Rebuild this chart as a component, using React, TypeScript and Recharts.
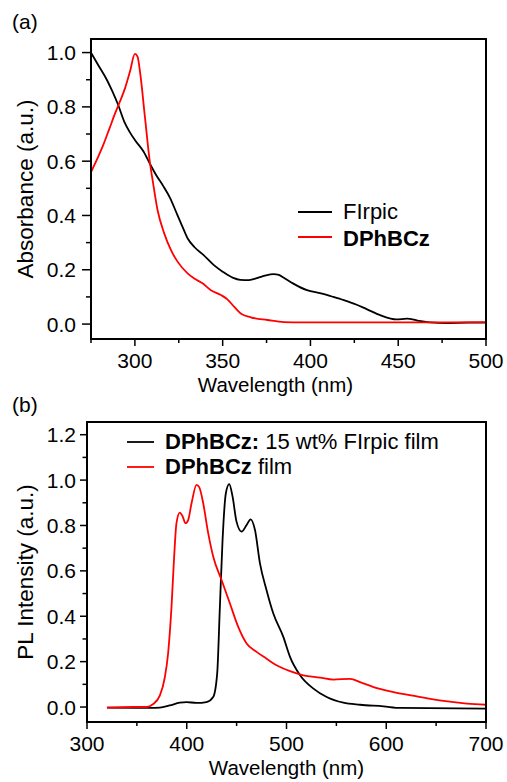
import React from 'react';
import { LineChart, Line, XAxis, YAxis, Legend, Label } from 'recharts';

const FONT = "'Liberation Sans', Arial, Helvetica, sans-serif";

// ---- Panel (a): absorbance ----
const absWlFIrpic = [275, 279, 284, 287, 290.5, 294, 297, 300, 305, 309, 312, 316, 320, 324, 327, 330, 334, 339, 345, 350, 356, 360, 365, 370, 374, 379, 382, 385, 390, 398, 406, 413, 419, 426, 432, 440, 449, 455, 461, 468, 478, 490, 500];
const absFIrpic = [1.0, 0.955, 0.9, 0.86, 0.807, 0.745, 0.708, 0.678, 0.635, 0.585, 0.55, 0.51, 0.465, 0.405, 0.36, 0.316, 0.283, 0.255, 0.217, 0.193, 0.17, 0.163, 0.162, 0.17, 0.178, 0.184, 0.181, 0.17, 0.15, 0.125, 0.113, 0.1, 0.088, 0.072, 0.055, 0.032, 0.017, 0.02, 0.013, 0.006, 0.004, 0.005, 0.005];

const absWlDPhBCz = [275, 279, 282, 285.5, 288.7, 291.5, 294.4, 297.2, 300, 301.5, 303, 305.7, 308.6, 310.1, 312.9, 316.7, 320.5, 324.3, 330, 333.8, 338.5, 343.3, 349, 352.7, 356.5, 360.3, 366, 375.5, 385, 395, 432, 470, 500];
const absDPhBCz = [0.56, 0.615, 0.66, 0.72, 0.776, 0.82, 0.869, 0.93, 0.995, 0.985, 0.925, 0.764, 0.593, 0.53, 0.42, 0.334, 0.273, 0.23, 0.187, 0.168, 0.15, 0.125, 0.107, 0.091, 0.064, 0.039, 0.025, 0.015, 0.007, 0.006, 0.006, 0.006, 0.007];

const absXTicks = [275, 300, 325, 350, 375, 400, 425, 450, 475, 500];
const absYTicks = [0, 0.1, 0.2, 0.3, 0.4, 0.5, 0.6, 0.7, 0.8, 0.9, 1.0];
const absXDomain = [275, 500];
const absYDomain = [-0.055, 1.05];

// ---- Panel (b): PL ----
const plWlDoped = [320, 363, 373, 383, 393, 399.7, 409.8, 419.8, 426.5, 430.5, 433.2, 435.9, 439.2, 442.6, 445.9, 449.9, 455, 460, 464, 468.4, 473.4, 480, 486.8, 496.8, 503.5, 513.6, 527, 540.3, 557, 573.8, 597.2, 614, 700];
const plDoped = [-0.003, -0.004, -0.003, 0.007, 0.019, 0.022, 0.018, 0.022, 0.044, 0.147, 0.44, 0.736, 0.942, 0.982, 0.928, 0.817, 0.773, 0.802, 0.827, 0.78, 0.633, 0.515, 0.412, 0.309, 0.221, 0.14, 0.081, 0.044, 0.019, 0.01, 0.003, -0.004, -0.007];

const plWlFilm = [320, 346, 360, 366, 373, 378, 381.3, 384.7, 387, 389.7, 393, 395.7, 398.7, 401.4, 404.8, 409.8, 412.5, 416.5, 421.5, 426.5, 434.9, 443.3, 451.6, 460, 470, 480, 490, 503.5, 516.9, 533.6, 547, 563.8, 573.8, 587.2, 607.3, 630.7, 657.5, 680.9, 700];
const plFilm = [-0.003, 0, 0, 0.012, 0.05, 0.13, 0.236, 0.44, 0.633, 0.81, 0.857, 0.842, 0.81, 0.824, 0.898, 0.979, 0.969, 0.898, 0.766, 0.663, 0.56, 0.456, 0.353, 0.28, 0.243, 0.213, 0.184, 0.158, 0.14, 0.13, 0.121, 0.124, 0.11, 0.088, 0.066, 0.047, 0.027, 0.015, 0.01];

const plXTicks = [300, 350, 400, 450, 500, 550, 600, 650, 700];
const plYTicks = [0, 0.1, 0.2, 0.3, 0.4, 0.5, 0.6, 0.7, 0.8, 0.9, 1.0, 1.1, 1.2];
const plXDomain = [300, 700];
const plYDomain = [-0.066, 1.256];

const zip = (xs: number[], ys: number[]) => xs.map((x, i) => ({ x, y: ys[i] }));

const absFIrpicData = zip(absWlFIrpic, absFIrpic);
const absDPhBCzData = zip(absWlDPhBCz, absDPhBCz);
const plDopedData = zip(plWlDoped, plDoped);
const plFilmData = zip(plWlFilm, plFilm);

// layout of each panel
const LAYOUT_A = { top: 0, width: 507, height: 400, mTop: 39, mRight: 21, yAxisW: 91, xAxisH: 61 };
const LAYOUT_B = { top: 390, width: 507, height: 392, mTop: 32, mRight: 21, yAxisW: 87, xAxisH: 60 };

const isMult = (v: number, step: number) => Math.abs(Math.round(v / step) * step - v) < 1e-6;

// Y tick renderer; the tick at the lowest value also draws the plot frame (box around the plot area)
const makeYTick = (L: typeof LAYOUT_A, majorLen: number, minorLen: number, gap: number, firstVal: number) => (props: any) => {
  const { x, y, payload } = props;
  const v = payload.value as number;
  const major = isMult(v, 0.2);
  const plotW = L.width - L.yAxisW - L.mRight;
  const plotTop = L.mTop;
  const plotBottom = L.height - L.xAxisH;
  return (
    <g>
      {v === firstVal && (
        <g>
          <rect x={x - 1} y={plotTop - 1} width={2} height={plotBottom - plotTop + 2} fill="#000" />
          <rect x={x + plotW - 1} y={plotTop - 1} width={2} height={plotBottom - plotTop + 2} fill="#000" />
          <rect x={x - 1} y={plotTop - 1} width={plotW + 2} height={2} fill="#000" />
          <rect x={x - 1} y={plotBottom - 1} width={plotW + 2} height={2} fill="#000" />
        </g>
      )}
      <line x1={x - (major ? majorLen : minorLen)} x2={x} y1={y} y2={y} stroke="#000" strokeWidth={1.5} />
      {major && (
        <text x={x - gap} y={y} dy="0.36em" textAnchor="end" fontFamily={FONT} fontSize={21} fill="#000">
          {v.toFixed(1)}
        </text>
      )}
    </g>
  );
};

const makeXTick = (step: number) => (props: any) => {
  const { x, y, payload } = props;
  const v = payload.value as number;
  const major = isMult(v, step);
  return (
    <g>
      <line x1={x} x2={x} y1={y} y2={y + (major ? 7 : 4)} stroke="#000" strokeWidth={1.5} />
      {major && (
        <text x={x} y={y + 29} textAnchor="middle" fontFamily={FONT} fontSize={21} fill="#000">
          {v}
        </text>
      )}
    </g>
  );
};

const xTitle = (text: string, dx: number, baseline: number) => (p: any) => {
  const vb = p.viewBox || {};
  const cx = (vb.x ?? 0) + (vb.width ?? 0) / 2 + dx;
  const y = (vb.y ?? 0) + baseline;
  return (
    <text x={cx} y={y} textAnchor="middle" fontFamily={FONT} fontSize={20.5} fill="#000">
      {text}
    </text>
  );
};

const yTitle = (text: string, cxAbs: number) => (p: any) => {
  const vb = p.viewBox || {};
  const cy = (vb.y ?? 0) + (vb.height ?? 0) / 2;
  return (
    <text
      x={cxAbs}
      y={cy}
      dy="0.355em"
      transform={`rotate(-90, ${cxAbs}, ${cy})`}
      textAnchor="middle"
      fontFamily={FONT}
      fontSize={22.5}
      fill="#000"
    >
      {text}
    </text>
  );
};

const LegendA = () => (
  <svg width={200} height={60} style={{ display: 'block' }}>
    <line x1={8} x2={42} y1={17} y2={17} stroke="#000" strokeWidth={1.8} />
    <text x={53} y={23.8} fontFamily={FONT} fontSize={22} fill="#000">FIrpic</text>
    <line x1={8} x2={42} y1={42} y2={42} stroke="#ff0000" strokeWidth={1.8} />
    <text x={53} y={50.5} fontFamily={FONT} fontSize={22} fontWeight="bold" fill="#000">DPhBCz</text>
  </svg>
);

const LegendB = () => (
  <svg width={340} height={70} style={{ display: 'block' }}>
    <line x1={7} x2={34} y1={22} y2={22} stroke="#000" strokeWidth={1.8} />
    <text x={45} y={28.8} fontFamily={FONT} fontSize={22} fill="#000">
      <tspan fontWeight="bold">DPhBCz:</tspan>
      <tspan>{' 15 wt% FIrpic film'}</tspan>
    </text>
    <line x1={7} x2={34} y1={47} y2={47} stroke="#ff0000" strokeWidth={1.8} />
    <text x={45} y={54} fontFamily={FONT} fontSize={22} fill="#000">
      <tspan fontWeight="bold">DPhBCz</tspan>
      <tspan>{' film'}</tspan>
    </text>
  </svg>
);

export default function App() {
  return (
    <div style={{ position: 'absolute', left: 0, top: 0, width: 507, height: 782, background: '#fff' }}>
      <div style={{ position: 'absolute', left: 0, top: LAYOUT_A.top }}>
        <LineChart width={LAYOUT_A.width} height={LAYOUT_A.height} margin={{ top: LAYOUT_A.mTop, right: LAYOUT_A.mRight, bottom: 0, left: 0 }}>
          <XAxis
            type="number"
            dataKey="x"
            domain={absXDomain}
            allowDataOverflow
            ticks={absXTicks}
            interval={0}
            height={LAYOUT_A.xAxisH}
            axisLine={false}
            tickLine={false}
            tickSize={0}
            tickMargin={0}
            tick={makeXTick(50)}
          >
            <Label content={xTitle('Wavelength (nm)', -13, 53)} />
          </XAxis>
          <YAxis
            type="number"
            domain={absYDomain}
            allowDataOverflow
            ticks={absYTicks}
            interval={0}
            width={LAYOUT_A.yAxisW}
            axisLine={false}
            tickLine={false}
            tickSize={0}
            tickMargin={0}
            tick={makeYTick(LAYOUT_A, 9, 5, 15, absYTicks[0])}
          >
            <Label content={yTitle('Absorbance (a.u.)', 25)} />
          </YAxis>
          <Line data={absFIrpicData} dataKey="y" type="monotone" dot={false} stroke="#000" strokeWidth={1.8} isAnimationActive={false} />
          <Line data={absDPhBCzData} dataKey="y" type="monotone" dot={false} stroke="#ff0000" strokeWidth={1.8} isAnimationActive={false} />
          <Legend
            layout="horizontal"
            verticalAlign="middle"
            align="center"
            content={() => <LegendA />}
            wrapperStyle={{ position: 'absolute', left: 290, top: 195, width: 200, height: 60 }}
          />
        </LineChart>
      </div>
      <div style={{ position: 'absolute', left: 0, top: LAYOUT_B.top }}>
        <LineChart width={LAYOUT_B.width} height={LAYOUT_B.height} margin={{ top: LAYOUT_B.mTop, right: LAYOUT_B.mRight, bottom: 0, left: 0 }}>
          <XAxis
            type="number"
            dataKey="x"
            domain={plXDomain}
            allowDataOverflow
            ticks={plXTicks}
            interval={0}
            height={LAYOUT_B.xAxisH}
            axisLine={false}
            tickLine={false}
            tickSize={0}
            tickMargin={0}
            tick={makeXTick(100)}
          >
            <Label content={xTitle('Wavelength (nm)', 0, 53)} />
          </XAxis>
          <YAxis
            type="number"
            domain={plYDomain}
            allowDataOverflow
            ticks={plYTicks}
            interval={0}
            width={LAYOUT_B.yAxisW}
            axisLine={false}
            tickLine={false}
            tickSize={0}
            tickMargin={0}
            tick={makeYTick(LAYOUT_B, 7, 4.5, 11, plYTicks[0])}
          >
            <Label content={yTitle('PL Intensity (a.u.)', 25)} />
          </YAxis>
          <Line data={plDopedData} dataKey="y" type="monotone" dot={false} stroke="#000" strokeWidth={1.8} isAnimationActive={false} />
          <Line data={plFilmData} dataKey="y" type="monotone" dot={false} stroke="#ff0000" strokeWidth={1.8} isAnimationActive={false} />
          <Legend
            layout="horizontal"
            verticalAlign="middle"
            align="center"
            content={() => <LegendB />}
            wrapperStyle={{ position: 'absolute', left: 120, top: 30, width: 340, height: 70 }}
          />
        </LineChart>
      </div>
      <svg width={507} height={782} style={{ position: 'absolute', left: 0, top: 0, pointerEvents: 'none' }}>
        <text x={12} y={29} fontFamily={FONT} fontSize={21} fill="#000">(a)</text>
        <text x={12} y={412} fontFamily={FONT} fontSize={21} fill="#000">(b)</text>
      </svg>
    </div>
  );
}
